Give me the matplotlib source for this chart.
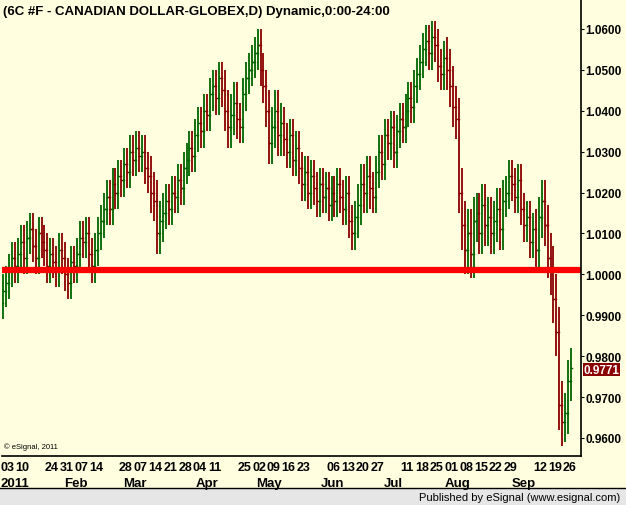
import matplotlib.pyplot as plt
import matplotlib.patches as patches

# daily closes, Jan 3 - Sep 28 2011, one row per week
closes = [
    0.996, 0.998, 1.001, 1.004, 1.002,
    1.005, 1.008, 1.004, 1.009, 1.011,
    1.007, 1.004, 1.010, 1.008, 1.006,
    1.002, 1.005, 1.003, 1.001, 1.006,
    1.004, 1.000, 0.998, 1.003, 1.002,
    1.005, 1.009, 1.008, 1.010, 1.005,
    1.002, 1.006, 1.010, 1.013, 1.016,
    1.019, 1.016, 1.022, 1.020, 1.024,
    1.023, 1.027, 1.025, 1.030, 1.028,
    1.031, 1.029, 1.030, 1.026, 1.024,
    1.020, 1.018, 1.010, 1.013, 1.015,
    1.018, 1.016, 1.020, 1.019, 1.023,
    1.021, 1.026, 1.028, 1.031, 1.029,
    1.034, 1.037, 1.035, 1.040, 1.039,
    1.044, 1.046, 1.043, 1.048, 1.045,
    1.040, 1.036, 1.039, 1.042, 1.038,
    1.036, 1.044, 1.048, 1.050, 1.052,
    1.054, 1.056, 1.050, 1.046, 1.040,
    1.032, 1.036, 1.040, 1.034, 1.037,
    1.033, 1.030, 1.034, 1.028, 1.031,
    1.026, 1.022, 1.025, 1.020, 1.024,
    1.021, 1.018, 1.022, 1.019, 1.021,
    1.017, 1.020, 1.018, 1.022, 1.019,
    1.016, 1.020, 1.013, 1.010, 1.014,
    1.017, 1.022, 1.020, 1.024, 1.021,
    1.019, 1.025, 1.030, 1.027, 1.034,
    1.032, 1.036, 1.030, 1.035, 1.038,
    1.036, 1.040, 1.043, 1.041, 1.046,
    1.049, 1.052, 1.055, 1.057, 1.054,
    1.058, 1.056, 1.051, 1.049, 1.053,
    1.050, 1.046, 1.041, 1.038, 1.020,
    1.012, 1.006, 1.010, 1.005, 1.013,
    1.015, 1.010, 1.017, 1.012, 1.014,
    1.010, 1.013, 1.016, 1.011, 1.018,
    1.020, 1.024, 1.022, 1.019, 1.023,
    1.016, 1.012, 1.014, 1.008, 1.011,
    1.006, 1.014, 1.018, 1.012, 1.004,
    1.001, 0.994, 0.986, 0.968, 0.964,
    0.966, 0.974, 0.9771,
]
# typical extension of high/low beyond open/close, per week
week_ext = [0.004, 0.004, 0.004, 0.004, 0.004, 0.004, 0.004, 0.004, 0.004, 0.004,
            0.005, 0.004, 0.004, 0.004, 0.004, 0.005, 0.004, 0.004, 0.005, 0.004,
            0.004, 0.004, 0.004, 0.004, 0.005, 0.004, 0.004, 0.004, 0.004, 0.004,
            0.005, 0.006, 0.005, 0.005, 0.004, 0.004, 0.005, 0.006, 0.005]

day_labels = ['03', '10', '24', '31', '07', '14', '28', '07', '14', '21', '28', '04', '11',
              '25', '02', '09', '16', '23', '06', '13', '20', '27', '11', '18', '25',
              '01', '08', '15', '22', '29', '12', '19', '26']
day_weeks = [0, 1, 3, 4, 5, 6, 8, 9, 10, 11, 12, 13, 14, 16, 17, 18, 19, 20,
             22, 23, 24, 25, 27, 28, 29, 30, 31, 32, 33, 34, 36, 37, 38]
month_labels = ['2011', 'Feb', 'Mar', 'Apr', 'May', 'Jun', 'Jul', 'Aug', 'Sep']
month_weeks = [0.8, 4.9, 8.9, 13.8, 18.0, 22.3, 26.4, 30.7, 35.2]
price_ticks = [0.96, 0.97, 0.98, 0.99, 1.00, 1.01, 1.02, 1.03, 1.04, 1.05, 1.06]
support = 1.0011
last_price = 0.9771

bg = '#FFFFE0'
W, H = 626, 506
fig = plt.figure(figsize=(W / 100, H / 100), dpi=100)
fig.patch.set_facecolor(bg)
plt.rcParams['font.family'] = ['Liberation Sans', 'DejaVu Sans']

ax = fig.add_axes([2 / W, (H - 457) / H, (581 - 2) / W, 457 / H])
ax.set_facecolor(bg)
ax.set_xlim(-0.35, 195.3)
ax.set_ylim(0.9556, 1.0673)

for i, c in enumerate(closes):
    o = closes[i - 1] if i > 0 else 0.993
    e = week_ext[min(i // 5, len(week_ext) - 1)]
    hi = max(o, c) + e
    lo = min(o, c) - e
    col = '#006400' if c >= o else '#8B0000'
    ax.plot([i, i], [lo, hi], color=col, lw=1.3, solid_capstyle='butt')
    ax.plot([i - 0.4, i], [o, o], color=col, lw=1.0)
    ax.plot([i, i + 0.4], [c, c], color=col, lw=1.0)

ax.axhline(support, color='#FF0000', lw=4.5)

ax.set_xticks([])
ax.yaxis.tick_right()
ax.set_yticks(price_ticks)
ax.set_yticklabels(['%.4f' % p for p in price_ticks], fontweight='bold', fontsize=8.5)
ax.tick_params(axis='y', length=2, pad=1)
for s in ['top', 'left']:
    ax.spines[s].set_visible(False)
ax.spines['right'].set_linewidth(1.2)
ax.spines['bottom'].set_linewidth(1.2)

ax.text(196.2, last_price - 0.0004, '%.4f' % last_price, color='white', fontsize=8.5,
        fontweight='bold', va='center', ha='left', clip_on=False,
        bbox=dict(boxstyle='square,pad=0.05', fc='#8B0000', ec='none'))

ax.text(0.004, 0.013, '© eSignal, 2011', transform=ax.transAxes, fontsize=5.5, va='bottom')
fig.text(3 / W, 1 - 12 / H, '(6C #F - CANADIAN DOLLAR-GLOBEX,D) Dynamic,0:00-24:00',
         fontsize=9.5, fontweight='bold', va='center')

for lab, w in zip(day_labels, day_weeks):
    xp = 3 + (w * 5 + 1.5) * 2.96
    fig.text(xp / W, 1 - 468 / H, lab, fontsize=9, fontweight='bold',
             ha='center', va='center')
for lab, w in zip(month_labels, month_weeks):
    xp = 3 + w * 5 * 2.96
    fig.text(xp / W, 1 - 484 / H, lab, fontsize=9.5, fontweight='bold', ha='center', va='center')

fig.patches.append(patches.Rectangle((0, 0), 1, 17 / H, transform=fig.transFigure,
                                     fc='#E6E6E6', ec='none'))
fig.add_artist(plt.Line2D([0, 1], [17 / H, 17 / H], color='black', lw=1))
fig.text(620 / W, 8 / H, 'Published by eSignal (www.esignal.com)', fontsize=8,
         ha='right', va='center')

fig.savefig('out.png', dpi=100, facecolor=fig.get_facecolor())
